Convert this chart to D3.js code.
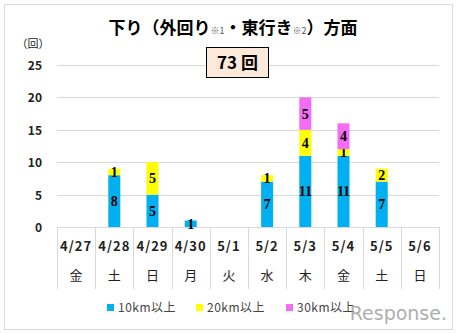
<!DOCTYPE html>
<html><head><meta charset="utf-8">
<script src="https://cdn.jsdelivr.net/npm/d3@7"></script>
<style>body{margin:0;background:#fff}svg{display:block}</style>
</head><body>
<svg id="c" width="457" height="334"></svg>
<script>
const dates = ["4/27","4/28","4/29","4/30","5/1","5/2","5/3","5/4","5/5","5/6"];
const weekdays = ["金","土","日","月","火","水","木","金","土","日"];
const s10 = [0,8,5,1,0,7,11,11,7,0];
const s20 = [0,1,5,0,0,1,4,1,2,0];
const s30 = [0,0,0,0,0,0,5,4,0,0];
const seriesNames = ["10km以上","20km以上","30km以上"];
const colors = ["#00B0F0","#FFFF00","#F46CF4"];
const yTicks = [0,5,10,15,20,25];
const totalLabel = "73 回";

const svg = d3.select("#c");
const font = "'Noto Sans CJK JP', 'DejaVu Sans', sans-serif";
svg.append("rect").attr("x",4.5).attr("y",4.5).attr("width",448).attr("height",325)
  .attr("fill","#fff").attr("stroke","#d9d9d9");

const L=57,R=439,T=65,B=227;
const x = d3.scaleBand().domain(dates).range([L,R]);
const y = d3.scaleLinear().domain([0,25]).range([B,T]);

// gridlines
svg.append("g").selectAll("line").data(yTicks).join("line")
  .attr("x1",L).attr("x2",R).attr("y1",d=>Math.round(y(d))+0.5).attr("y2",d=>Math.round(y(d))+0.5)
  .attr("stroke","#d9d9d9");
// y labels
svg.append("g").selectAll("text").data(yTicks).join("text")
  .attr("x",42).attr("y",d=>y(d)+5).attr("text-anchor","end")
  .attr("font-family",font).attr("font-size",12).attr("font-weight","bold").attr("fill","#222")
  .text(d=>d);
svg.append("text").attr("x",33).attr("y",48).attr("text-anchor","middle")
  .attr("font-family",font).attr("font-size",11).attr("fill","#222").text("（回）");

// category separators
const seps = d3.range(dates.length+1).map(i=>L+i*x.step());
svg.append("g").selectAll("line").data(seps).join("line")
  .attr("x1",d=>Math.round(d)+0.5).attr("x2",d=>Math.round(d)+0.5)
  .attr("y1",B).attr("y2",289).attr("stroke","#d9d9d9");

// stacked bars
const rows = dates.map((d,i)=>({date:d,"10km以上":s10[i],"20km以上":s20[i],"30km以上":s30[i]}));
const stack = d3.stack().keys(seriesNames)(rows);
const bw = 12;
stack.forEach((layer,k)=>{
  const g = svg.append("g");
  layer.forEach(seg=>{
    const v = seg[1]-seg[0];
    if(v<=0) return;
    const cx = x(seg.data.date)+x.bandwidth()/2;
    g.append("rect").attr("x",cx-bw/2).attr("width",bw)
      .attr("y",y(seg[1])).attr("height",y(seg[0])-y(seg[1])).attr("fill",colors[k]);
    g.append("text").attr("x",cx).attr("y",(y(seg[0])+y(seg[1]))/2+5)
      .attr("text-anchor","middle").attr("font-family","'Liberation Serif', serif")
      .attr("font-size",14).attr("font-weight","bold").attr("fill","#000").text(v);
  });
});

// x labels
svg.append("g").selectAll("text").data(dates).join("text")
  .attr("x",d=>x(d)+x.bandwidth()/2).attr("y",251).attr("text-anchor","middle")
  .attr("font-family",font).attr("font-size",13).attr("font-weight","bold").attr("letter-spacing",1).attr("fill","#222")
  .text(d=>d);
svg.append("g").selectAll("text").data(weekdays.map((w,i)=>({w,d:dates[i]}))).join("text")
  .attr("x",d=>x(d.d)+x.bandwidth()/2).attr("y",280).attr("text-anchor","middle")
  .attr("font-family",font).attr("font-size",13).attr("fill","#222")
  .text(d=>d.w);

// title
const title = svg.append("text").attr("x",233).attr("y",34).attr("text-anchor","middle")
  .attr("font-family",font).attr("font-weight","bold").attr("font-size",17).attr("fill","#000");
title.append("tspan").text("下り（外回り");
title.append("tspan").attr("font-size",9).attr("font-weight","normal").attr("fill","#555").text("※1");
title.append("tspan").text("・東行き");
title.append("tspan").attr("font-size",9).attr("font-weight","normal").attr("fill","#555").text("※2");
title.append("tspan").text("）方面");

// total box
svg.append("rect").attr("x",206.5).attr("y",47.5).attr("width",62).attr("height",30)
  .attr("fill","#FDE9D9").attr("stroke","#000");
svg.append("text").attr("x",237.5).attr("y",69).attr("text-anchor","middle")
  .attr("font-family",font).attr("font-weight","bold").attr("font-size",17).attr("fill","#000").text(totalLabel);

// legend
const lx = [107,196,286];
seriesNames.forEach((n,i)=>{
  svg.append("rect").attr("x",lx[i]).attr("y",304).attr("width",7).attr("height",7).attr("fill",colors[i]);
  svg.append("text").attr("x",lx[i]+11).attr("y",312).attr("font-family",font).attr("font-size",12)
    .attr("letter-spacing",0.5).attr("fill","#444").text(n);
});

// watermark
svg.append("text").attr("x",447).attr("y",320).attr("text-anchor","end")
  .attr("font-family","'DejaVu Sans', sans-serif").attr("font-size",19)
  .attr("fill","#9a9a9a").attr("opacity",0.8).text("Response.");
</script>
</body></html>
